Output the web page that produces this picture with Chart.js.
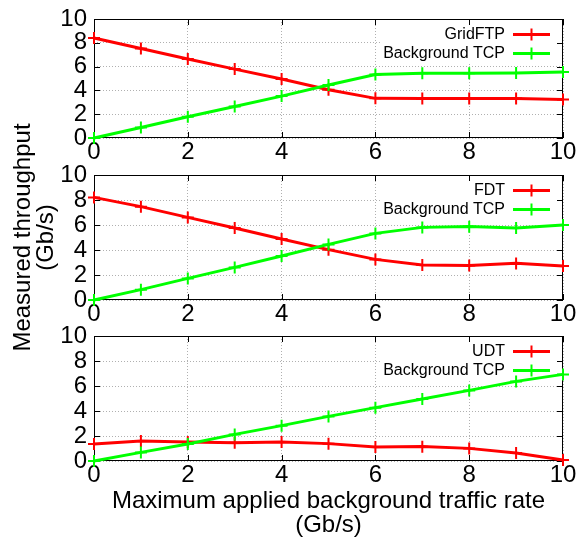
<!DOCTYPE html>
<html>
<head>
<meta charset="utf-8">
<script src="https://cdn.jsdelivr.net/npm/chart.js@4.4.1/dist/chart.umd.min.js"></script>
<style>
    html, body { margin: 0; padding: 0; background: #fff; }
    #wrap { position: relative; width: 588px; height: 537px; }
    #wrap canvas { position: absolute; left: 0; top: 0; }
</style>
</head>
<body>
<div id="wrap">
    <canvas id="c1" width="588" height="537"></canvas>
    <canvas id="c2" width="588" height="537"></canvas>
    <canvas id="c3" width="588" height="537"></canvas>
</div>
<script>
// Maximum applied background traffic rate (Gb/s)
const rates = [0, 1, 2, 3, 4, 5, 6, 7, 8, 9, 10];
const xTicks = [0, 2, 4, 6, 8, 10];
const yTicks = [0, 2, 4, 6, 8, 10];

// Measured throughput (Gb/s)
const gridftp = [8.40, 7.52, 6.64, 5.79, 4.96, 4.05, 3.33, 3.31, 3.31, 3.31, 3.23];
const tcpVsGridftp = [0.00, 0.88, 1.79, 2.64, 3.52, 4.45, 5.33, 5.44, 5.44, 5.47, 5.55];
const fdt = [8.21, 7.47, 6.61, 5.76, 4.88, 4.03, 3.25, 2.80, 2.77, 2.93, 2.72];
const tcpVsFdt = [0.00, 0.83, 1.73, 2.61, 3.52, 4.45, 5.33, 5.81, 5.87, 5.76, 6.00];
const udt = [1.36, 1.60, 1.52, 1.47, 1.52, 1.39, 1.12, 1.15, 1.01, 0.64, 0.08];
const tcpVsUdt = [0.00, 0.69, 1.36, 2.13, 2.83, 3.57, 4.27, 4.96, 5.65, 6.37, 6.93];

const RED = '#ff0000';
const GREEN = '#00ff00';
const FONT = "'Liberation Sans', Arial, Helvetica, sans-serif";

Chart.defaults.font.family = FONT;
Chart.defaults.color = '#000';

// gnuplot-ish frame: solid border + inward ticks on all four sides, opaque key box
const framePlugin = {
    id: 'frame',
    beforeDatasetsDraw(chart) {
        const { ctx, chartArea: a, scales } = chart;
        ctx.save();
        // opaque key background
        ctx.fillStyle = '#fff';
        ctx.fillRect(a.right - 183, a.top + 1, 182, 42);
        ctx.strokeStyle = '#000';
        ctx.lineWidth = 1;
        ctx.strokeRect(a.left + 0.5, a.top + 0.5, a.right - a.left - 1, a.bottom - a.top - 1);
        ctx.beginPath();
        xTicks.forEach(v => {
            const px = Math.round(scales.x.getPixelForValue(v)) + 0.5;
            ctx.moveTo(px, a.bottom); ctx.lineTo(px, a.bottom - 6);
            ctx.moveTo(px, a.top); ctx.lineTo(px, a.top + 6);
        });
        yTicks.forEach(v => {
            const py = Math.round(scales.y.getPixelForValue(v)) + 0.5;
            ctx.moveTo(a.left, py); ctx.lineTo(a.left + 6, py);
            ctx.moveTo(a.right, py); ctx.lineTo(a.right - 6, py);
        });
        ctx.stroke();
        ctx.restore();
    },
    afterDatasetsDraw(chart) {
        const { ctx, chartArea: a } = chart;
        const entries = chart.options.plugins.frame.entries;
        ctx.save();
        ctx.font = '16px ' + FONT;
        ctx.textAlign = 'right';
        ctx.textBaseline = 'middle';
        entries.forEach((e, i) => {
            const y = a.top + 15.5 + i * 19;
            ctx.fillStyle = '#000';
            ctx.fillText(e.label, a.right - 58, y);
            ctx.strokeStyle = e.color;
            ctx.lineWidth = 3;
            ctx.beginPath();
            ctx.moveTo(a.right - 50, y); ctx.lineTo(a.right - 13, y);
            ctx.stroke();
            const cx = a.right - 31.5;
            ctx.lineWidth = 2;
            ctx.beginPath();
            ctx.moveTo(cx - 6, y); ctx.lineTo(cx + 6, y);
            ctx.moveTo(cx, y - 6); ctx.lineTo(cx, y + 6);
            ctx.stroke();
        });
        ctx.restore();
    }
};

function series(label, values, color, order) {
    return {
        label,
        data: rates.map((r, i) => ({ x: r, y: values[i] })),
        borderColor: color,
        backgroundColor: color,
        borderWidth: 3,
        pointStyle: 'cross',
        pointRadius: 6,
        pointBorderWidth: 2,
        pointHoverRadius: 6,
        tension: 0,
        clip: false,
        order
    };
}

function makePanel(id, top, bottom, toolName, toolData, tcpData, extra) {
    const xh = extra.xHeight || 30;
    return new Chart(document.getElementById(id), {
        type: 'line',
        data: {
            datasets: [
                series(toolName, toolData, RED, 1),
                series('Background TCP', tcpData, GREEN, 0)
            ]
        },
        options: {
            responsive: false,
            animation: false,
            events: [],
            layout: { padding: { left: 0, right: 25, top: top, bottom: 537 - bottom - xh } },
            plugins: {
                legend: { display: false },
                tooltip: { enabled: false },
                frame: {
                    entries: [
                        { label: toolName, color: RED },
                        { label: 'Background TCP', color: GREEN }
                    ]
                }
            },
            scales: {
                x: {
                    type: 'linear', min: 0, max: 10,
                    afterBuildTicks: s => { s.ticks = xTicks.map(v => ({ value: v })); },
                    afterFit: s => { s.height = xh; },
                    grid: { color: '#b0b0b0', lineWidth: 1, drawTicks: false },
                    border: { display: false, dash: [1, 2] },
                    ticks: { font: { size: 24, lineHeight: 1 }, padding: 2, maxRotation: 0, autoSkip: false, color: '#000' },
                    title: extra.xTitle ? {
                        display: true,
                        text: extra.xTitle,
                        font: { size: 24, lineHeight: 1 },
                        padding: { top: 0, bottom: 0 },
                        color: '#000'
                    } : { display: false }
                },
                y: {
                    min: 0, max: 10,
                    afterBuildTicks: s => { s.ticks = yTicks.map(v => ({ value: v })); },
                    afterFit: s => { s.width = 94; },
                    grid: { color: '#b0b0b0', lineWidth: 1, drawTicks: false },
                    border: { display: false, dash: [1, 2] },
                    ticks: { font: { size: 24, lineHeight: 1 }, padding: 7, autoSkip: false, color: '#000' },
                    title: extra.yTitle ? {
                        display: true,
                        text: extra.yTitle,
                        font: { size: 24, lineHeight: 0.95 },
                        padding: { top: 12, bottom: 0 },
                        color: '#000'
                    } : { display: false }
                }
            }
        },
        plugins: [framePlugin]
    });
}

makePanel('c1', 13, 138, 'GridFTP', gridftp, tcpVsGridftp, {});
makePanel('c2', 175, 300, 'FDT', fdt, tcpVsFdt, { yTitle: ['Measured throughput', '(Gb/s)'] });
makePanel('c3', 336, 461, 'UDT', udt, tcpVsUdt, {
    xHeight: 76,
    xTitle: ['Maximum applied background traffic rate', '(Gb/s)']
});
</script>
</body>
</html>
